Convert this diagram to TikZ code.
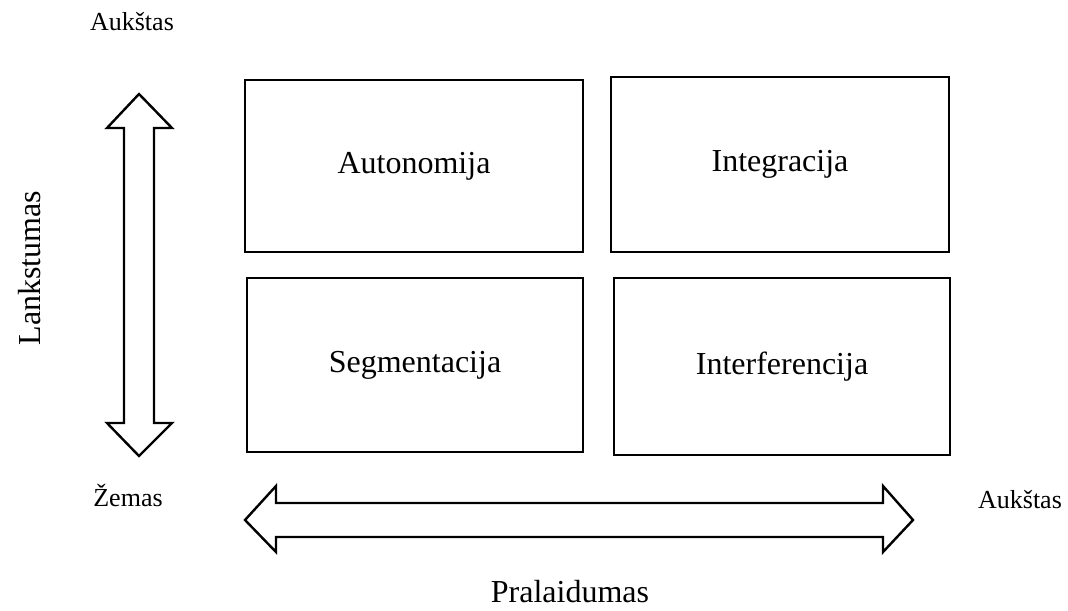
\documentclass[tikz,border=0pt]{standalone}
\usepackage{fontspec}
\setmainfont{Liberation Serif}
\usetikzlibrary{positioning}
\tikzset{
  quadbox/.style={
    draw,
    line width=1.2pt,
    align=center,
    inner sep=0pt,
    font=\fontsize{16}{19}\selectfont
  },
  axislabel/.style={font=\fontsize{16}{19}\selectfont, inner sep=0pt},
  endlabel/.style={font=\fontsize{13}{16}\selectfont, inner sep=0pt},
  bigarrow/.style={draw, line width=1.2pt, line join=miter, fill=white}
}
\begin{document}
\begin{tikzpicture}[x=0.5pt, y=-0.5pt]
\useasboundingbox (0,0) rectangle (1068,610);

% quadrants
\node[quadbox, minimum width=169pt, minimum height=86pt] (auto) at (414,166) {Autonomija};
\node[quadbox, minimum width=169pt, minimum height=87.5pt] (integ) at (780,164.5) {Integracija};
\node[quadbox, minimum width=168pt, minimum height=87pt] (segm) at (415,365) {Segmentacija};
\node[quadbox, minimum width=168pt, minimum height=88.5pt] (interf) at (782,366.5) {Interferencija};

% axes
\draw[bigarrow] (139,94) -- (107,128) -- (124,128) -- (124,423) -- (107,423) -- (139,456)
  -- (172,423) -- (154,423) -- (154,128) -- (172,128) -- cycle;
\draw[bigarrow] (245,520) -- (276,486) -- (276,503) -- (883,503) -- (883,486) -- (913,520)
  -- (883,552) -- (883,537) -- (276,537) -- (276,552) -- cycle;

% labels
\node[endlabel] (topHigh) at (132,22) {Aukštas};
\node[endlabel] (low) at (128,495) {Žemas};
\node[endlabel] (rightHigh) at (1020,500) {Aukštas};
\node[axislabel, rotate=90] (flex) at (30,268) {Lankstumas};
\node[axislabel] (band) at (570,592) {Pralaidumas};
\end{tikzpicture}
\end{document}
